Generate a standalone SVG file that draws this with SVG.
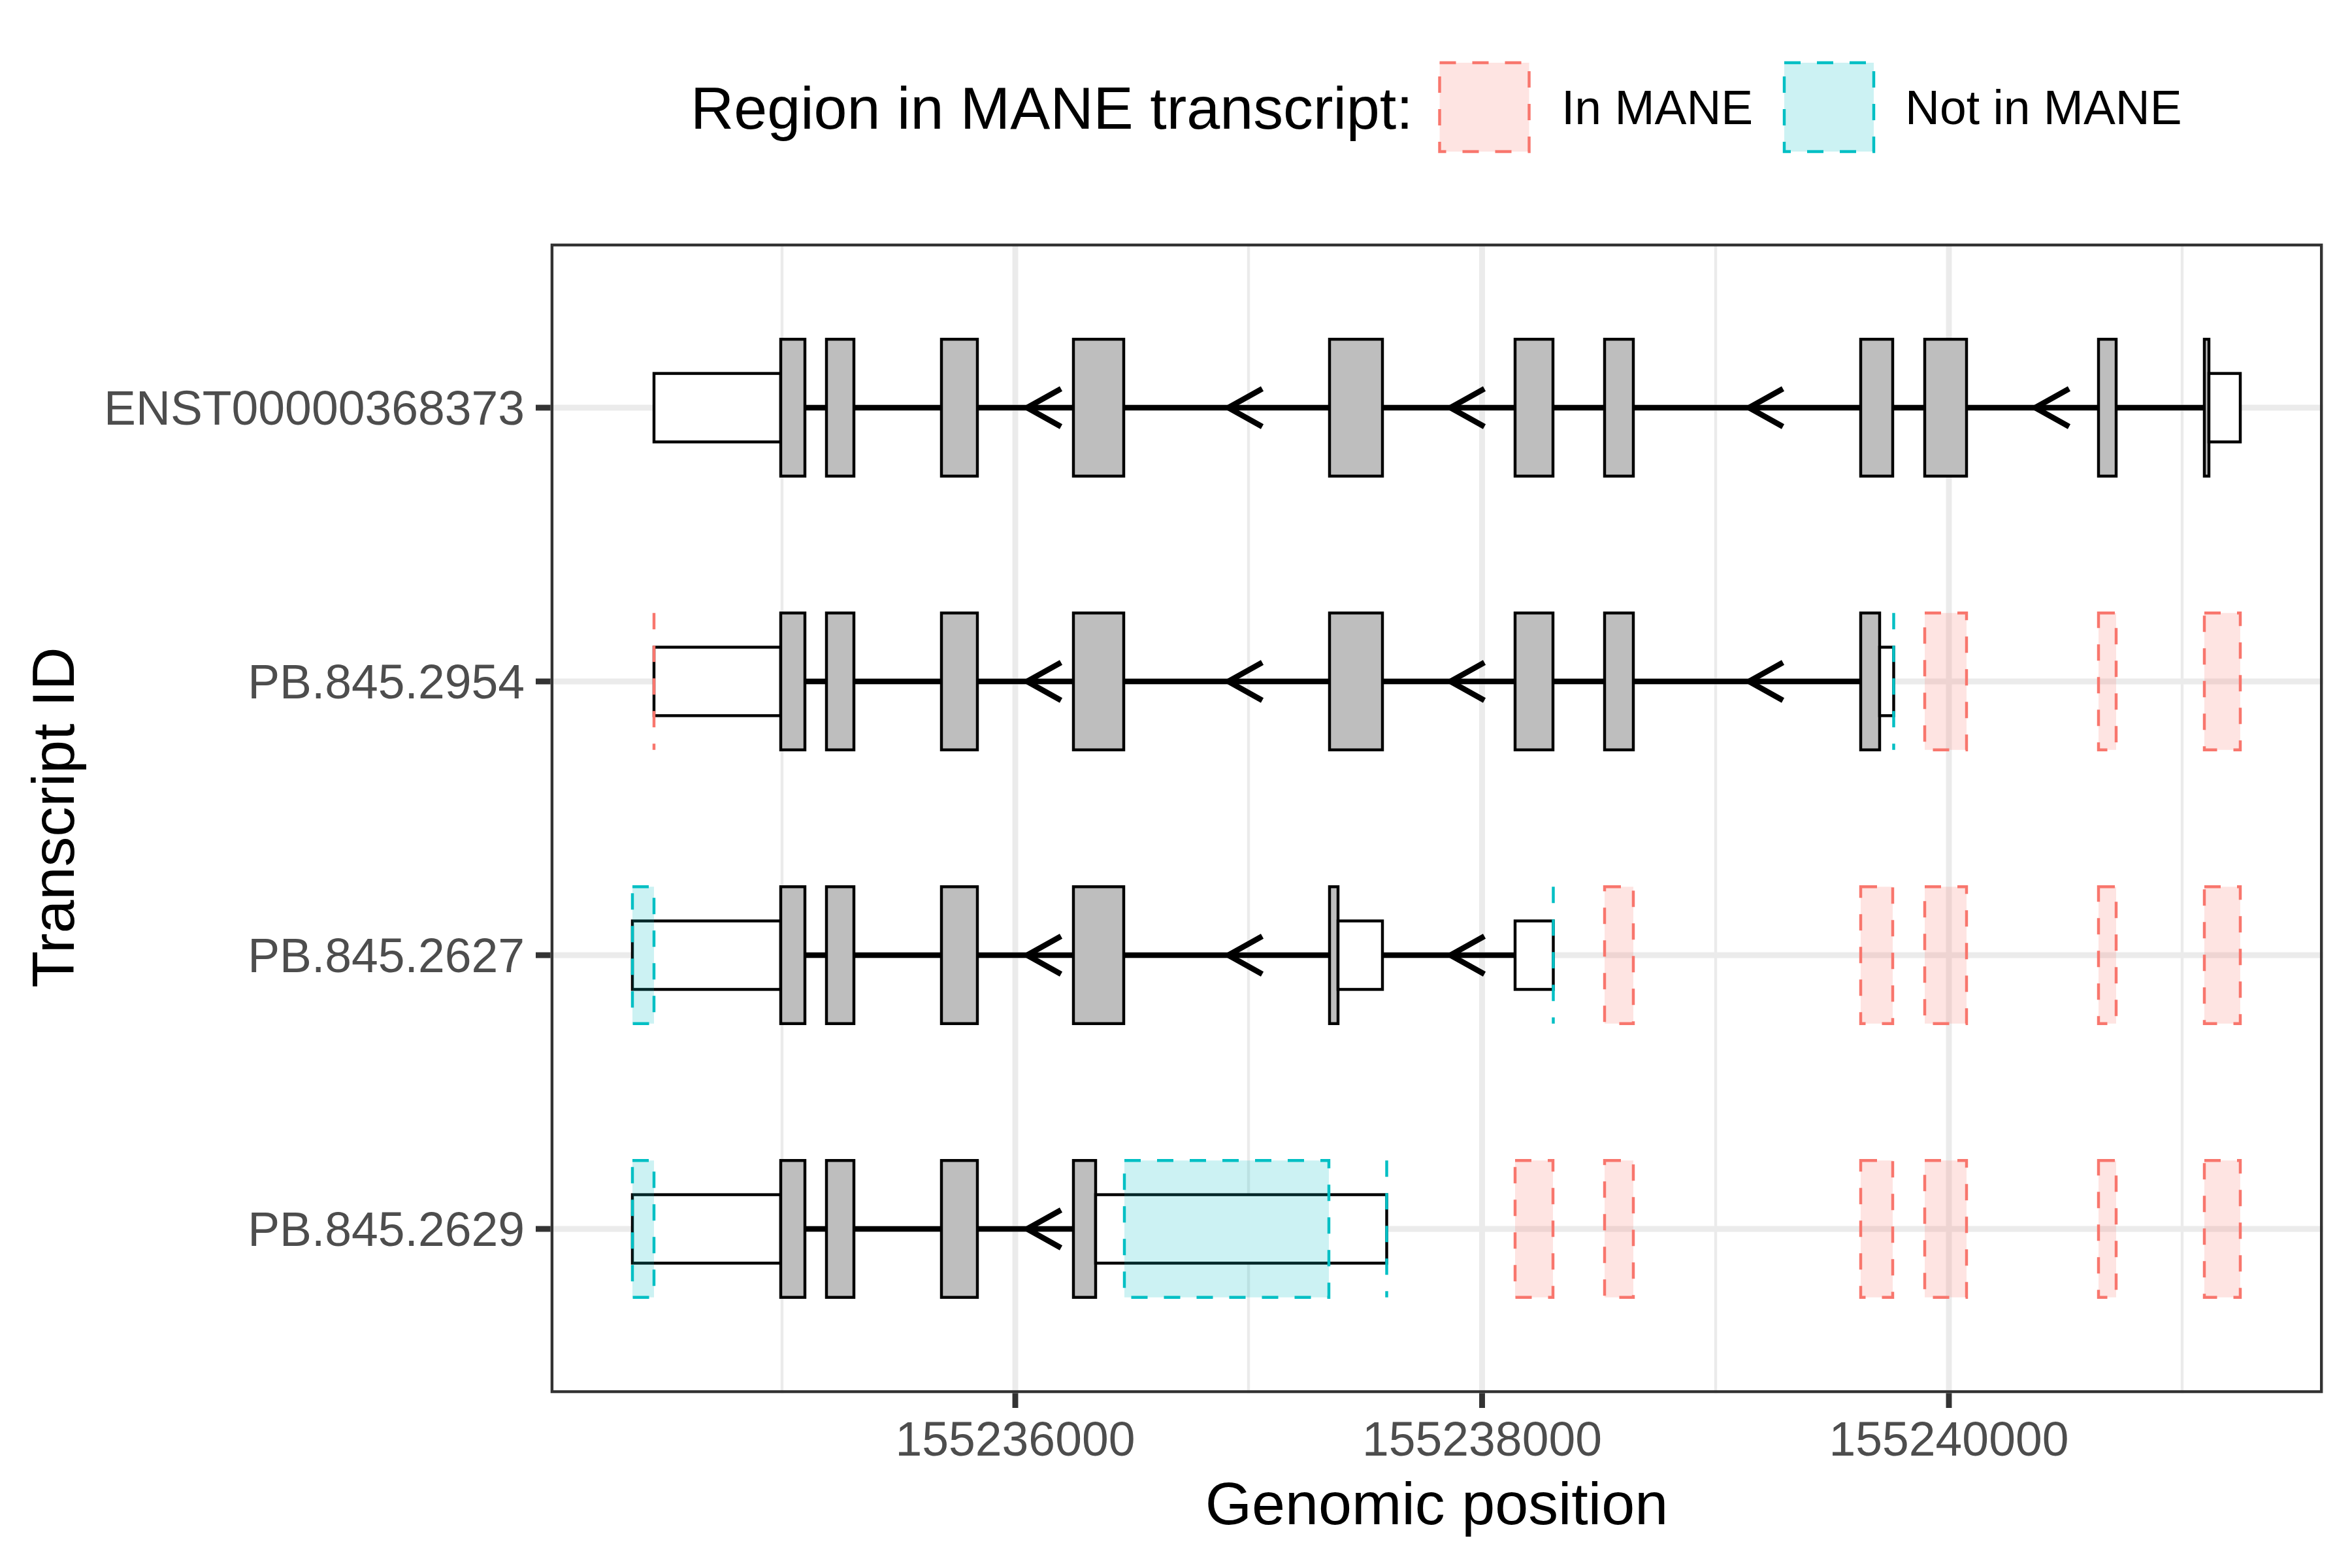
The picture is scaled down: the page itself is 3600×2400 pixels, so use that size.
<svg xmlns="http://www.w3.org/2000/svg" width="3600" height="2400" viewBox="0 0 3600 2400">
<style>
.gmaj{stroke:#EBEBEB;stroke-width:8.9}
.gmin{stroke:#EBEBEB;stroke-width:4.45}
.intron{stroke:#000;stroke-width:8.5;fill:none}
.arrow{stroke:#000;stroke-width:8.5;fill:none;stroke-linejoin:round}
.cds{fill:#BEBEBE;stroke:#000;stroke-width:4.45}
.utr{fill:#FFFFFF;stroke:#000;stroke-width:4.45}
.in{fill:#F8766D;fill-opacity:0.2;stroke:#F8766D;stroke-width:4.45;stroke-dasharray:25 25}
.notin{fill:#00BFC4;fill-opacity:0.2;stroke:#00BFC4;stroke-width:4.45;stroke-dasharray:25 25}
.inl{stroke:#F8766D;stroke-width:4.45;stroke-dasharray:25 25}
.notinl{stroke:#00BFC4;stroke-width:4.45;stroke-dasharray:25 25}
.tick{stroke:#333333;stroke-width:8.9}
.axt{font-family:"Liberation Sans",Arial,Helvetica,sans-serif;font-size:73.3px;fill:#4D4D4D}
.lgt{font-family:"Liberation Sans",Arial,Helvetica,sans-serif;font-size:73.3px;fill:#000}
.ttl{font-family:"Liberation Sans",Arial,Helvetica,sans-serif;font-size:91.7px;fill:#000}
</style>
<rect width="3600" height="2400" fill="#FFFFFF"/>

<g id="grid">
<line class="gmin" x1="1197" y1="372.8" x2="1197" y2="2132.3"/>
<line class="gmin" x1="1911" y1="372.8" x2="1911" y2="2132.3"/>
<line class="gmin" x1="2626" y1="372.8" x2="2626" y2="2132.3"/>
<line class="gmin" x1="3340" y1="372.8" x2="3340" y2="2132.3"/>
<line class="gmaj" x1="1554" y1="372.8" x2="1554" y2="2132.3"/>
<line class="gmaj" x1="2268.5" y1="372.8" x2="2268.5" y2="2132.3"/>
<line class="gmaj" x1="2983" y1="372.8" x2="2983" y2="2132.3"/>
<line class="gmaj" x1="842.7" y1="624" x2="3555.4" y2="624"/>
<line class="gmaj" x1="842.7" y1="1043" x2="3555.4" y2="1043"/>
<line class="gmaj" x1="842.7" y1="1462" x2="3555.4" y2="1462"/>
<line class="gmaj" x1="842.7" y1="1881" x2="3555.4" y2="1881"/>
</g>

<g id="connectors">
<line class="intron" x1="1232" y1="624" x2="3374" y2="624"/>
<polyline class="arrow" points="1624,595 1572,624 1624,653"/>
<polyline class="arrow" points="1932,595 1880,624 1932,653"/>
<polyline class="arrow" points="2272,595 2220,624 2272,653"/>
<polyline class="arrow" points="2729,595 2677,624 2729,653"/>
<polyline class="arrow" points="3167,595 3115,624 3167,653"/>

<line class="intron" x1="1232" y1="1043" x2="2848" y2="1043"/>
<polyline class="arrow" points="1624,1014 1572,1043 1624,1072"/>
<polyline class="arrow" points="1932,1014 1880,1043 1932,1072"/>
<polyline class="arrow" points="2272,1014 2220,1043 2272,1072"/>
<polyline class="arrow" points="2729,1014 2677,1043 2729,1072"/>

<line class="intron" x1="1232" y1="1462" x2="2319" y2="1462"/>
<polyline class="arrow" points="1624,1433 1572,1462 1624,1491"/>
<polyline class="arrow" points="1932,1433 1880,1462 1932,1491"/>
<polyline class="arrow" points="2272,1433 2220,1462 2272,1491"/>

<line class="intron" x1="1232" y1="1881" x2="1643" y2="1881"/>
<polyline class="arrow" points="1624,1852 1572,1881 1624,1910"/>
</g>

<g id="tx-ENST00000368373">
<rect class="utr" x="1001" y="571.6" width="194" height="104.8"/>
<rect class="cds" x="1195" y="519.25" width="37" height="209.5"/>
<rect class="cds" x="1265" y="519.25" width="42" height="209.5"/>
<rect class="cds" x="1441" y="519.25" width="55" height="209.5"/>
<rect class="cds" x="1643" y="519.25" width="77" height="209.5"/>
<rect class="cds" x="2035" y="519.25" width="81" height="209.5"/>
<rect class="cds" x="2319" y="519.25" width="58" height="209.5"/>
<rect class="cds" x="2456" y="519.25" width="44" height="209.5"/>
<rect class="cds" x="2848" y="519.25" width="49" height="209.5"/>
<rect class="cds" x="2946" y="519.25" width="64" height="209.5"/>
<rect class="cds" x="3212" y="519.25" width="27" height="209.5"/>
<rect class="cds" x="3374" y="519.25" width="7" height="209.5"/>
<rect class="utr" x="3381" y="571.6" width="48" height="104.8"/>
</g>

<g id="tx-PB.845.2954">
<rect class="utr" x="1001" y="990.6" width="194" height="104.8"/>
<rect class="cds" x="1195" y="938.25" width="37" height="209.5"/>
<rect class="cds" x="1265" y="938.25" width="42" height="209.5"/>
<rect class="cds" x="1441" y="938.25" width="55" height="209.5"/>
<rect class="cds" x="1643" y="938.25" width="77" height="209.5"/>
<rect class="cds" x="2035" y="938.25" width="81" height="209.5"/>
<rect class="cds" x="2319" y="938.25" width="58" height="209.5"/>
<rect class="cds" x="2456" y="938.25" width="44" height="209.5"/>
<rect class="cds" x="2848" y="938.25" width="29" height="209.5"/>
<rect class="utr" x="2877" y="990.6" width="21.5" height="104.8"/>
</g>

<g id="tx-PB.845.2627">
<rect class="utr" x="968" y="1409.6" width="227" height="104.8"/>
<rect class="cds" x="1195" y="1357.25" width="37" height="209.5"/>
<rect class="cds" x="1265" y="1357.25" width="42" height="209.5"/>
<rect class="cds" x="1441" y="1357.25" width="55" height="209.5"/>
<rect class="cds" x="1643" y="1357.25" width="77" height="209.5"/>
<rect class="cds" x="2035" y="1357.25" width="13" height="209.5"/>
<rect class="utr" x="2048" y="1409.6" width="68" height="104.8"/>
<rect class="utr" x="2319" y="1409.6" width="58.5" height="104.8"/>
</g>

<g id="tx-PB.845.2629">
<rect class="utr" x="968" y="1828.6" width="227" height="104.8"/>
<rect class="cds" x="1195" y="1776.25" width="37" height="209.5"/>
<rect class="cds" x="1265" y="1776.25" width="42" height="209.5"/>
<rect class="cds" x="1441" y="1776.25" width="55" height="209.5"/>
<rect class="cds" x="1643" y="1776.25" width="34" height="209.5"/>
<rect class="utr" x="1677" y="1828.6" width="445.5" height="104.8"/>
</g>

<g id="mane-diff">
<line class="inl" x1="1001" y1="938.25" x2="1001" y2="1147.75"/>
<line class="notinl" x1="2898.5" y1="938.25" x2="2898.5" y2="1147.75"/>
<rect class="in" x="2946" y="938.25" width="64" height="209.5"/>
<rect class="in" x="3212" y="938.25" width="27" height="209.5"/>
<rect class="in" x="3374" y="938.25" width="55" height="209.5"/>

<rect class="notin" x="968" y="1357.25" width="33" height="209.5"/>
<line class="notinl" x1="2377.5" y1="1357.25" x2="2377.5" y2="1566.75"/>
<rect class="in" x="2456" y="1357.25" width="44" height="209.5"/>
<rect class="in" x="2848" y="1357.25" width="49" height="209.5"/>
<rect class="in" x="2946" y="1357.25" width="64" height="209.5"/>
<rect class="in" x="3212" y="1357.25" width="27" height="209.5"/>
<rect class="in" x="3374" y="1357.25" width="55" height="209.5"/>

<rect class="notin" x="968" y="1776.25" width="33" height="209.5"/>
<rect class="notin" x="1721" y="1776.25" width="313" height="209.5"/>
<line class="notinl" x1="2122.5" y1="1776.25" x2="2122.5" y2="1985.75"/>
<rect class="in" x="2319" y="1776.25" width="58" height="209.5"/>
<rect class="in" x="2456" y="1776.25" width="44" height="209.5"/>
<rect class="in" x="2848" y="1776.25" width="49" height="209.5"/>
<rect class="in" x="2946" y="1776.25" width="64" height="209.5"/>
<rect class="in" x="3212" y="1776.25" width="27" height="209.5"/>
<rect class="in" x="3374" y="1776.25" width="55" height="209.5"/>
</g>

<rect id="panel-border" x="844.9" y="375" width="2708.3" height="1755.1" fill="none" stroke="#333333" stroke-width="4.4"/>

<g id="y-axis">
<line class="tick" x1="820" y1="624" x2="842.7" y2="624"/>
<line class="tick" x1="820" y1="1043" x2="842.7" y2="1043"/>
<line class="tick" x1="820" y1="1462" x2="842.7" y2="1462"/>
<line class="tick" x1="820" y1="1881" x2="842.7" y2="1881"/>
<text class="axt" x="803" y="650" text-anchor="end">ENST00000368373</text>
<text class="axt" x="803" y="1069" text-anchor="end">PB.845.2954</text>
<text class="axt" x="803" y="1488" text-anchor="end">PB.845.2627</text>
<text class="axt" x="803" y="1907" text-anchor="end">PB.845.2629</text>
<text class="ttl" transform="translate(113,1251) rotate(-90)" text-anchor="middle">Transcript ID</text>
</g>

<g id="x-axis">
<line class="tick" x1="1554" y1="2132.3" x2="1554" y2="2155"/>
<line class="tick" x1="2268.5" y1="2132.3" x2="2268.5" y2="2155"/>
<line class="tick" x1="2983" y1="2132.3" x2="2983" y2="2155"/>
<text class="axt" x="1554" y="2228" text-anchor="middle">155236000</text>
<text class="axt" x="2268.5" y="2228" text-anchor="middle">155238000</text>
<text class="axt" x="2983" y="2228" text-anchor="middle">155240000</text>
<text class="ttl" x="2199" y="2333" text-anchor="middle">Genomic position</text>
</g>

<g id="legend">
<text class="ttl" x="1057" y="197">Region in MANE transcript:</text>
<rect class="in" x="2203.5" y="96" width="137" height="136"/>
<text class="lgt" x="2390" y="190">In MANE</text>
<rect class="notin" x="2731" y="96" width="137" height="136"/>
<text class="lgt" x="2916" y="190">Not in MANE</text>
</g>
</svg>
